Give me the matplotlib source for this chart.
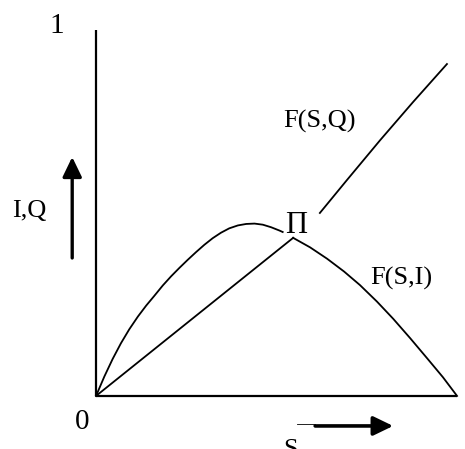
import matplotlib.pyplot as plt
from matplotlib.patches import FancyArrowPatch

plt.rcParams['font.family'] = ['Liberation Serif', 'DejaVu Serif']

# curves (S on x, I/Q on y, both scaled 0..1)
hump_s = [0, 0.023, 0.046, 0.069, 0.092, 0.116, 0.139, 0.161, 0.185, 0.208, 0.231,
          0.254, 0.277, 0.300, 0.323, 0.346, 0.369, 0.393, 0.416, 0.439, 0.462,
          0.485, 0.508, 0.517]
hump_v = [0, 0.053, 0.101, 0.144, 0.182, 0.217, 0.247, 0.273, 0.302, 0.327, 0.350,
          0.372, 0.393, 0.413, 0.431, 0.446, 0.458, 0.466, 0.470, 0.471, 0.468,
          0.461, 0.452, 0.448]

line_s = [0, 0.546]
line_v = [0, 0.432]

fsi_s = [0.546, 0.593, 0.640, 0.687, 0.731, 0.778, 0.823, 0.870, 0.917, 0.961, 1.0]
fsi_v = [0.432, 0.406, 0.375, 0.340, 0.303, 0.258, 0.211, 0.158, 0.103, 0.051, 0.0]

fsq_s = [0.620, 0.695, 0.787, 0.878, 0.972]
fsq_v = [0.500, 0.590, 0.699, 0.803, 0.907]

fig = plt.figure(figsize=(4.65, 4.49), dpi=100)
ax = fig.add_axes([0, 0, 1, 1])
ax.set_xlim(-0.266, 1.022)
ax.set_ylim(-0.145, 1.082)
ax.axis('off')

# axes drawn by hand
ax.plot([0, 0], [0, 1.0], color='black', lw=1.6, solid_capstyle='butt')
ax.plot([0, 1.0], [0, 0], color='black', lw=1.6, solid_capstyle='butt')

# curves
for xs, ys in [(hump_s, hump_v), (line_s, line_v), (fsi_s, fsi_v), (fsq_s, fsq_v)]:
    ax.plot(xs, ys, color='black', lw=1.3, solid_joinstyle='round')

# direction arrows
up = FancyArrowPatch((-0.066, 0.377), (-0.066, 0.653),
                     arrowstyle='-|>,head_length=12,head_width=5.8',
                     mutation_scale=1, lw=2.4, color='black', shrinkA=0, shrinkB=0)
ax.add_patch(up)
right = FancyArrowPatch((0.607, -0.082), (0.823, -0.082),
                        arrowstyle='-|>,head_length=12,head_width=5.8',
                        mutation_scale=1, lw=2.6, color='black', shrinkA=0, shrinkB=0)
ax.add_patch(right)
ax.plot([0.557, 0.607], [-0.077, -0.077], color='black', lw=0.6)

# labels
ax.text(-0.108, 0.992, '1', fontsize=21, ha='center', va='baseline')
ax.text(-0.039, -0.090, '0', fontsize=21, ha='center', va='baseline')
ax.text(0.540, -0.164, 'S', fontsize=19, ha='center', va='baseline')
ax.text(-0.186, 0.489, 'I,Q', fontsize=19, ha='center', va='baseline')
ax.text(0.554, 0.445, 'Π', fontsize=22, ha='center', va='baseline')
ax.text(0.518, 0.732, 'F(S,Q)', fontsize=19, ha='left', va='baseline')
ax.text(0.759, 0.303, 'F(S,I)', fontsize=19, ha='left', va='baseline')

fig.savefig('out.png', dpi=100)
